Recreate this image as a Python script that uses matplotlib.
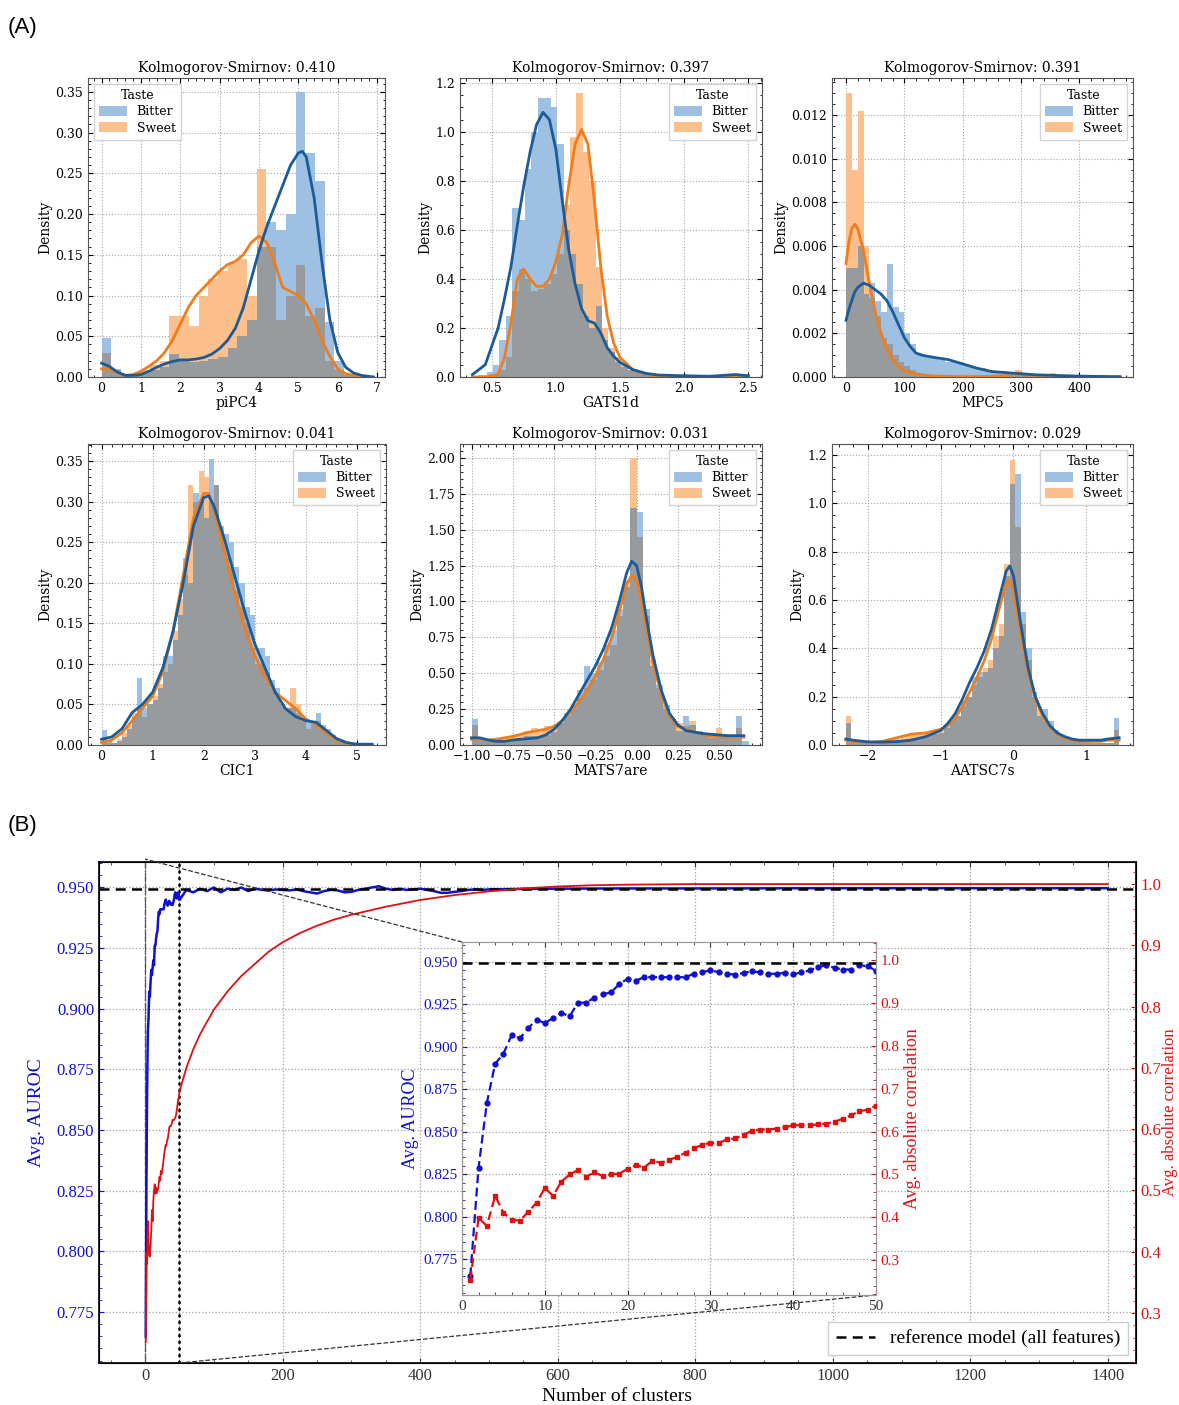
import numpy as np
import matplotlib
matplotlib.use("Agg")
import matplotlib.pyplot as plt
from matplotlib.patches import Patch
from matplotlib.lines import Line2D
from matplotlib.ticker import MultipleLocator, AutoMinorLocator, FixedLocator
from mpl_toolkits.axes_grid1.inset_locator import mark_inset

plt.rcParams['font.family'] = ['DejaVu Serif']

# ---------------- (A) histogram data ----------------
taste_labels = ["Bitter", "Sweet"]

# piPC4
pipc4_title = "Kolmogorov-Smirnov: 0.410"
pipc4_bin_lo, pipc4_bin_w = 0.0, 0.2464
pipc4_bitter = [0.048, 0.010, 0.003, 0.002, 0.005, 0.008, 0.012, 0.028, 0.020, 0.018,
                0.020, 0.022, 0.025, 0.035, 0.050, 0.070, 0.160, 0.190, 0.180, 0.200,
                0.350, 0.275, 0.240, 0.068, 0.020, 0.003, 0.001, 0.001]
pipc4_sweet = [0.030, 0.008, 0.002, 0.003, 0.008, 0.015, 0.020, 0.075, 0.075, 0.062,
               0.100, 0.120, 0.130, 0.140, 0.145, 0.100, 0.255, 0.160, 0.070, 0.100,
               0.138, 0.075, 0.085, 0.020, 0.008, 0.002, 0.000, 0.000]
pipc4_kde_x = [0.0, 0.2, 0.4, 0.6, 0.8, 1.0, 1.2, 1.4, 1.6, 1.8, 2.0, 2.2, 2.4, 2.6, 2.8, 3.0,
               3.2, 3.4, 3.6, 3.8, 4.0, 4.2, 4.4, 4.6, 4.8, 5.0, 5.1, 5.2, 5.4, 5.6, 5.8, 6.0,
               6.2, 6.4, 6.6, 6.9]
pipc4_kde_bitter = [0.017, 0.013, 0.006, 0.002, 0.002, 0.003, 0.007, 0.012, 0.016, 0.019, 0.021,
                    0.021, 0.022, 0.024, 0.028, 0.035, 0.045, 0.060, 0.085, 0.120, 0.155, 0.185,
                    0.210, 0.235, 0.260, 0.275, 0.277, 0.270, 0.220, 0.140, 0.070, 0.030, 0.012,
                    0.005, 0.002, 0.000]
pipc4_kde_sweet = [0.010, 0.010, 0.005, 0.002, 0.003, 0.007, 0.013, 0.020, 0.030, 0.045, 0.065,
                   0.085, 0.100, 0.110, 0.120, 0.130, 0.138, 0.142, 0.150, 0.165, 0.173, 0.165,
                   0.140, 0.110, 0.105, 0.100, 0.095, 0.090, 0.070, 0.045, 0.025, 0.010, 0.004,
                   0.002, 0.000, 0.000]

# GATS1d
gats1d_title = "Kolmogorov-Smirnov: 0.397"
gats1d_bin_lo, gats1d_bin_w = 0.36, 0.05
gats1d_bitter = [0.005, 0.010, 0.020, 0.050, 0.150, 0.250, 0.690, 0.640, 0.850, 1.000,
                 1.140, 1.140, 1.100, 0.950, 0.600, 0.500, 0.380, 0.250, 0.200, 0.290,
                 0.150, 0.100, 0.060, 0.040, 0.030, 0.020, 0.015, 0.010, 0.008, 0.005,
                 0.004, 0.003, 0.003, 0.002, 0.002, 0.001, 0.001, 0.001, 0.001, 0.001,
                 0.001, 0.002, 0.010]
gats1d_sweet = [0.000, 0.000, 0.000, 0.010, 0.030, 0.080, 0.350, 0.440, 0.400, 0.350,
                0.360, 0.380, 0.420, 0.500, 0.700, 0.980, 1.160, 0.920, 0.800, 0.450,
                0.200, 0.120, 0.080, 0.050, 0.030, 0.020, 0.010, 0.005, 0.003, 0.002,
                0.000, 0.000, 0.000, 0.000, 0.000, 0.000, 0.000, 0.000, 0.000, 0.000,
                0.000, 0.000, 0.000]
gats1d_kde_x = [0.35, 0.45, 0.55, 0.60, 0.65, 0.70, 0.75, 0.80, 0.85, 0.90, 0.95, 1.00, 1.05,
                1.10, 1.15, 1.20, 1.25, 1.30, 1.35, 1.40, 1.45, 1.50, 1.60, 1.70, 1.80, 2.00,
                2.20, 2.40, 2.50]
gats1d_kde_bitter = [0.010, 0.050, 0.200, 0.320, 0.450, 0.620, 0.780, 0.920, 1.030, 1.080,
                     1.050, 0.930, 0.720, 0.520, 0.380, 0.280, 0.230, 0.220, 0.180, 0.120,
                     0.085, 0.060, 0.030, 0.015, 0.008, 0.005, 0.003, 0.010, 0.005]
gats1d_kde_sweet = [0.000, 0.000, 0.010, 0.080, 0.220, 0.400, 0.440, 0.400, 0.370, 0.370,
                    0.400, 0.470, 0.580, 0.780, 0.950, 1.010, 0.950, 0.720, 0.450, 0.250,
                    0.140, 0.080, 0.030, 0.010, 0.003, 0.001, 0.000, 0.000, 0.000]

# MPC5
mpc5_title = "Kolmogorov-Smirnov: 0.391"
mpc5_bin_lo, mpc5_bin_w = 0.0, 10.0
mpc5_bitter = [0.0050, 0.0050, 0.0060, 0.0038, 0.0043, 0.0035, 0.0030, 0.0052, 0.0032, 0.0030,
               0.0020, 0.0015, 0.0011, 0.0010, 0.0009, 0.0009, 0.0008, 0.0007, 0.0007, 0.0006,
               0.0005, 0.0005, 0.0004, 0.0004, 0.0003, 0.0002, 0.0002, 0.0002, 0.0001, 0.0002,
               0.0002, 0.0002, 0.0001, 0.0001, 0.0001, 0.0001, 0.0000, 0.0001, 0.0000, 0.0001,
               0.0000, 0.0000, 0.0001, 0.0000, 0.0000, 0.0000, 0.0001]
mpc5_sweet = [0.0130, 0.0095, 0.0122, 0.0060, 0.0036, 0.0028, 0.0018, 0.0015, 0.0010, 0.0007,
              0.0005, 0.0003, 0.0002, 0.0001, 0.0001, 0.0001, 0.0000, 0.0000, 0.0000, 0.0000,
              0.0000, 0.0000, 0.0000, 0.0000, 0.0000, 0.0000, 0.0000, 0.0000, 0.0001, 0.0003,
              0.0002, 0.0001, 0.0000, 0.0000, 0.0000, 0.0002, 0.0000, 0.0000, 0.0000, 0.0000,
              0.0000, 0.0000, 0.0000, 0.0000, 0.0000, 0.0000, 0.0000]
mpc5_kde_x = [0, 5, 10, 15, 20, 30, 40, 50, 60, 70, 80, 90, 100, 110, 120, 130, 150, 175, 200,
              225, 250, 275, 290, 300, 325, 350, 400, 450, 470]
mpc5_kde_bitter = [0.0026, 0.0031, 0.0035, 0.0039, 0.0041, 0.0043, 0.0042, 0.0040, 0.0038,
                   0.0035, 0.0030, 0.0024, 0.0018, 0.0014, 0.0011, 0.0010, 0.0009, 0.0008,
                   0.0006, 0.0004, 0.00025, 0.0002, 0.00017, 0.00015, 0.0001, 0.00008,
                   0.00004, 0.00002, 0.00001]
mpc5_kde_sweet = [0.0052, 0.0062, 0.0068, 0.0070, 0.0068, 0.0058, 0.0043, 0.0030, 0.0020,
                  0.0013, 0.0008, 0.0005, 0.0003, 0.0002, 0.00015, 0.0001, 0.00005, 0.00003,
                  0.00002, 0.00002, 0.00003, 0.00007, 0.0001, 0.0001, 0.00006, 0.00004,
                  0.00001, 0.0, 0.0]

# CIC1
cic1_title = "Kolmogorov-Smirnov: 0.041"
cic1_bin_lo, cic1_bin_w = 0.0, 0.1
cic1_bitter = [0.018, 0.005, 0.003, 0.005, 0.010, 0.020, 0.035, 0.082, 0.045, 0.050,
               0.055, 0.070, 0.110, 0.110, 0.130, 0.160, 0.230, 0.200, 0.310, 0.300,
               0.280, 0.353, 0.320, 0.270, 0.260, 0.250, 0.220, 0.200, 0.170, 0.160,
               0.120, 0.120, 0.110, 0.080, 0.070, 0.050, 0.045, 0.045, 0.040, 0.030,
               0.030, 0.030, 0.040, 0.025, 0.020, 0.012, 0.008, 0.005, 0.003, 0.002,
               0.002, 0.001, 0.001]
cic1_sweet = [0.010, 0.003, 0.003, 0.008, 0.015, 0.025, 0.040, 0.045, 0.035, 0.050,
              0.060, 0.075, 0.090, 0.100, 0.140, 0.180, 0.210, 0.320, 0.300, 0.338,
              0.330, 0.300, 0.320, 0.260, 0.230, 0.220, 0.190, 0.170, 0.150, 0.120,
              0.100, 0.100, 0.090, 0.070, 0.060, 0.050, 0.045, 0.070, 0.050, 0.035,
              0.020, 0.025, 0.030, 0.020, 0.015, 0.010, 0.005, 0.003, 0.002, 0.001,
              0.001, 0.000, 0.000]
cic1_kde_x = [0.0, 0.2, 0.4, 0.6, 0.8, 1.0, 1.2, 1.4, 1.6, 1.8, 2.0, 2.1, 2.2, 2.4, 2.6, 2.8,
              3.0, 3.2, 3.4, 3.6, 3.8, 4.0, 4.2, 4.4, 4.6, 4.8, 5.0, 5.3]
cic1_kde_bitter = [0.007, 0.010, 0.020, 0.040, 0.050, 0.065, 0.095, 0.140, 0.200, 0.270, 0.305,
                   0.307, 0.295, 0.255, 0.210, 0.165, 0.125, 0.095, 0.065, 0.045, 0.035, 0.030,
                   0.028, 0.018, 0.008, 0.003, 0.001, 0.001]
cic1_kde_sweet = [0.003, 0.006, 0.015, 0.030, 0.045, 0.060, 0.090, 0.140, 0.210, 0.280, 0.310,
                  0.310, 0.290, 0.240, 0.190, 0.145, 0.110, 0.085, 0.065, 0.055, 0.045, 0.032,
                  0.025, 0.015, 0.006, 0.002, 0.000, 0.000]

# MATS7are
mats7are_title = "Kolmogorov-Smirnov: 0.031"
mats7are_bin_lo, mats7are_bin_w = -1.0, 0.04
mats7are_bitter = [0.18, 0.05, 0.04, 0.03, 0.03, 0.03, 0.04, 0.05, 0.06, 0.06,
                   0.06, 0.07, 0.09, 0.15, 0.22, 0.28, 0.38, 0.55, 0.50, 0.58,
                   0.70, 0.80, 0.95, 1.10, 1.65, 1.62, 0.95, 0.55, 0.42, 0.28,
                   0.18, 0.10, 0.20, 0.14, 0.10, 0.07, 0.05, 0.06, 0.06, 0.07,
                   0.20, 0.03]
mats7are_sweet = [0.14, 0.05, 0.04, 0.03, 0.04, 0.05, 0.06, 0.08, 0.10, 0.12,
                  0.10, 0.13, 0.12, 0.16, 0.20, 0.26, 0.33, 0.40, 0.45, 0.52,
                  0.62, 0.70, 0.90, 1.15, 2.00, 1.45, 0.90, 0.60, 0.40, 0.25,
                  0.18, 0.15, 0.13, 0.17, 0.08, 0.06, 0.05, 0.12, 0.08, 0.06,
                  0.12, 0.00]
mats7are_kde_x = [-1.0, -0.95, -0.9, -0.85, -0.8, -0.75, -0.7, -0.65, -0.6, -0.55, -0.5, -0.45,
                  -0.4, -0.35, -0.3, -0.25, -0.2, -0.15, -0.1, -0.06, -0.03, 0.0, 0.03, 0.06,
                  0.1, 0.15, 0.2, 0.25, 0.3, 0.35, 0.4, 0.45, 0.5, 0.55, 0.6, 0.65]
mats7are_kde_bitter = [0.05, 0.05, 0.035, 0.025, 0.025, 0.035, 0.04, 0.045, 0.05, 0.07, 0.11,
                       0.17, 0.25, 0.35, 0.45, 0.55, 0.67, 0.82, 1.02, 1.20, 1.28, 1.25, 1.10,
                       0.88, 0.62, 0.38, 0.22, 0.14, 0.10, 0.09, 0.08, 0.075, 0.07, 0.065, 0.065,
                       0.065]
mats7are_kde_sweet = [0.04, 0.04, 0.035, 0.04, 0.05, 0.06, 0.075, 0.09, 0.10, 0.11, 0.13, 0.17,
                      0.23, 0.30, 0.38, 0.48, 0.60, 0.75, 0.95, 1.12, 1.18, 1.15, 1.00, 0.80,
                      0.57, 0.35, 0.20, 0.13, 0.11, 0.09, 0.07, 0.06, 0.06, 0.055, 0.055, 0.055]

# AATSC7s
aatsc7s_title = "Kolmogorov-Smirnov: 0.029"
aatsc7s_bin_lo, aatsc7s_bin_w = -2.3, 0.075
aatsc7s_bitter = [0.09, 0.02, 0.01, 0.01, 0.01, 0.01, 0.01, 0.015, 0.015, 0.02,
                  0.02, 0.025, 0.03, 0.03, 0.035, 0.04, 0.045, 0.05, 0.07, 0.10,
                  0.12, 0.18, 0.20, 0.28, 0.30, 0.30, 0.32, 0.40, 0.45, 0.70,
                  1.08, 1.12, 0.55, 0.40, 0.22, 0.12, 0.15, 0.10, 0.06, 0.04,
                  0.03, 0.02, 0.02, 0.015, 0.015, 0.01, 0.01, 0.01, 0.01, 0.11]
aatsc7s_sweet = [0.12, 0.02, 0.01, 0.01, 0.01, 0.01, 0.01, 0.015, 0.02, 0.025,
                 0.03, 0.04, 0.045, 0.045, 0.05, 0.05, 0.055, 0.06, 0.08, 0.10,
                 0.12, 0.16, 0.20, 0.25, 0.28, 0.32, 0.35, 0.45, 0.50, 0.75,
                 1.18, 0.90, 0.50, 0.35, 0.20, 0.15, 0.10, 0.08, 0.05, 0.04,
                 0.03, 0.02, 0.02, 0.015, 0.01, 0.01, 0.01, 0.01, 0.01, 0.06]
aatsc7s_kde_x = [-2.3, -2.2, -2.0, -1.8, -1.6, -1.4, -1.2, -1.0, -0.9, -0.8, -0.7, -0.6, -0.5,
                 -0.4, -0.3, -0.2, -0.1, -0.05, 0.0, 0.1, 0.2, 0.3, 0.4, 0.5, 0.6, 0.7, 0.8,
                 0.9, 1.0, 1.2, 1.3, 1.45]
aatsc7s_kde_bitter = [0.025, 0.02, 0.013, 0.012, 0.014, 0.02, 0.035, 0.06, 0.09, 0.13, 0.19,
                      0.26, 0.32, 0.39, 0.48, 0.60, 0.72, 0.74, 0.70, 0.50, 0.32, 0.20, 0.13,
                      0.08, 0.05, 0.035, 0.025, 0.02, 0.02, 0.02, 0.025, 0.03]
aatsc7s_kde_sweet = [0.02, 0.015, 0.01, 0.015, 0.03, 0.045, 0.05, 0.065, 0.08, 0.11, 0.16,
                     0.22, 0.28, 0.35, 0.44, 0.56, 0.67, 0.68, 0.64, 0.46, 0.30, 0.19, 0.12,
                     0.075, 0.045, 0.03, 0.02, 0.015, 0.015, 0.015, 0.02, 0.02]

# ---------------- (B) cluster data ----------------
inset_clusters = list(range(1, 51))
inset_auroc = [0.765, 0.829, 0.867, 0.890, 0.896, 0.907, 0.905, 0.911, 0.916, 0.914,
               0.917, 0.920, 0.918, 0.926, 0.926, 0.929, 0.931, 0.932, 0.937, 0.940,
               0.939, 0.941, 0.941, 0.941, 0.941, 0.941, 0.941, 0.943, 0.944, 0.945,
               0.944, 0.943, 0.9425, 0.9435, 0.9445, 0.9438, 0.943, 0.943, 0.9435, 0.9428,
               0.9438, 0.945, 0.947, 0.948, 0.9465, 0.9455, 0.9455, 0.948, 0.9475, 0.9448]
inset_corr = [0.253, 0.398, 0.380, 0.450, 0.411, 0.394, 0.392, 0.413, 0.434, 0.468,
              0.450, 0.483, 0.500, 0.510, 0.495, 0.505, 0.496, 0.500, 0.502, 0.513,
              0.522, 0.516, 0.532, 0.527, 0.534, 0.541, 0.551, 0.561, 0.569, 0.574,
              0.573, 0.582, 0.584, 0.592, 0.602, 0.605, 0.605, 0.607, 0.610, 0.615,
              0.615, 0.615, 0.617, 0.619, 0.623, 0.630, 0.638, 0.648, 0.651, 0.661]
tail_auroc_x = [60, 70, 80, 90, 100, 110, 120, 130, 140, 150, 160, 170, 180, 190, 200, 210,
                220, 230, 240, 250, 260, 270, 280, 290, 300, 310, 320, 330, 340, 350, 360, 370,
                380, 390, 400, 410, 420, 430, 440, 450, 460, 470, 480, 490, 500, 550, 600, 700,
                800, 1000, 1200, 1400]
tail_auroc = [0.9490, 0.9480, 0.9495, 0.9485, 0.9500, 0.9480, 0.9495, 0.9490, 0.9500, 0.9485,
              0.9495, 0.9490, 0.9488, 0.9492, 0.9490, 0.9488, 0.9492, 0.9485, 0.9480, 0.9475,
              0.9485, 0.9490, 0.9488, 0.9480, 0.9482, 0.9490, 0.9495, 0.9500, 0.9505, 0.9495,
              0.9490, 0.9495, 0.9490, 0.9492, 0.9495, 0.9490, 0.9485, 0.9478, 0.9478, 0.9482,
              0.9485, 0.9490, 0.9492, 0.9490, 0.9492, 0.9494, 0.9495, 0.9496, 0.9496, 0.9497,
              0.9497, 0.9497]
tail_corr_x = [60, 70, 80, 90, 100, 120, 140, 160, 180, 200, 225, 250, 275, 300, 350, 400,
               450, 500, 550, 600, 650, 700, 800, 900, 1000, 1100, 1200, 1300, 1400]
tail_corr = [0.700, 0.730, 0.755, 0.775, 0.795, 0.825, 0.850, 0.870, 0.890, 0.905, 0.920,
             0.932, 0.942, 0.950, 0.963, 0.974, 0.982, 0.988, 0.993, 0.996, 0.998, 0.999,
             1.000, 1.000, 1.000, 1.000, 1.000, 1.000, 1.000]
reference_auroc = 0.9495

# ---------------- styling ----------------
C_BAR_B = '#9dc0e3'
C_BAR_S = '#fdbf8c'
C_BAR_O = '#979b9d'
C_KDE_B = '#1b5c98'
C_KDE_S = '#f07d1c'

fig = plt.figure(figsize=(11.79, 14.05), dpi=100)
W, H = 1179.0, 1405.0


def px_axes(x0, y0, x1, y1):
    return fig.add_axes([x0 / W, 1 - y1 / H, (x1 - x0) / W, (y1 - y0) / H])


def sci_ticks(ax, size=9):
    ax.minorticks_on()
    ax.tick_params(which='both', direction='in', top=True, right=True, labelsize=size)
    ax.tick_params(which='major', length=3.5, width=0.8)
    ax.tick_params(which='minor', length=1.8, width=0.6)


panels = [
    ("piPC4", pipc4_title, pipc4_bin_lo, pipc4_bin_w, pipc4_bitter, pipc4_sweet,
     pipc4_kde_x, pipc4_kde_bitter, pipc4_kde_sweet),
    ("GATS1d", gats1d_title, gats1d_bin_lo, gats1d_bin_w, gats1d_bitter, gats1d_sweet,
     gats1d_kde_x, gats1d_kde_bitter, gats1d_kde_sweet),
    ("MPC5", mpc5_title, mpc5_bin_lo, mpc5_bin_w, mpc5_bitter, mpc5_sweet,
     mpc5_kde_x, mpc5_kde_bitter, mpc5_kde_sweet),
    ("CIC1", cic1_title, cic1_bin_lo, cic1_bin_w, cic1_bitter, cic1_sweet,
     cic1_kde_x, cic1_kde_bitter, cic1_kde_sweet),
    ("MATS7are", mats7are_title, mats7are_bin_lo, mats7are_bin_w, mats7are_bitter, mats7are_sweet,
     mats7are_kde_x, mats7are_kde_bitter, mats7are_kde_sweet),
    ("AATSC7s", aatsc7s_title, aatsc7s_bin_lo, aatsc7s_bin_w, aatsc7s_bitter, aatsc7s_sweet,
     aatsc7s_kde_x, aatsc7s_kde_bitter, aatsc7s_kde_sweet),
]
boxes = [(88, 78, 385, 377), (460, 78, 762, 377), (832, 78, 1133, 377),
         (88, 444, 386, 745), (460, 444, 762, 745), (832, 444, 1133, 745)]
xlims = [(-0.345, 7.2), (0.253, 2.607), (-24, 492), (-0.265, 5.57), (-1.07, 0.76), (-2.49, 1.64)]
ylims = [0.367, 1.22, 0.0137, 0.371, 2.097, 1.245]
xmajor = [1, 0.5, 100, 1, 0.25, 1]
xmax_tick = [7, 2.5, 400, 5, 0.5, 1]
legend_locs = ['upper left', 'upper right', 'upper right', 'upper right', 'upper right', 'upper right']

for (xlabel, title, lo, w, hb, hs, kx, kb, ks), box, xl, yl, xm, xt, lloc in zip(
        panels, boxes, xlims, ylims, xmajor, xmax_tick, legend_locs):
    ax = px_axes(*box)
    edges = lo + w * np.arange(len(hb))
    hb = np.asarray(hb)
    hs = np.asarray(hs)
    ax.bar(edges, hb, width=w, align='edge', color=C_BAR_B, lw=0, zorder=2)
    ax.bar(edges, hs, width=w, align='edge', color=C_BAR_S, lw=0, zorder=2)
    ax.bar(edges, np.minimum(hb, hs), width=w, align='edge', color=C_BAR_O, lw=0, zorder=2)
    ax.plot(kx, ks, color=C_KDE_S, lw=2, zorder=3)
    ax.plot(kx, kb, color=C_KDE_B, lw=2, zorder=4)
    ax.set_xlim(*xl)
    ax.set_ylim(0, yl)
    ticks = np.arange(np.ceil(xl[0] / xm) * xm, xt + xm / 2, xm)
    ax.xaxis.set_major_locator(FixedLocator(ticks))
    sci_ticks(ax)
    ax.xaxis.set_minor_locator(AutoMinorLocator(5))
    ax.grid(True, which='major', ls=':', color='#a8a8a8', lw=0.8, zorder=0)
    ax.set_axisbelow(True)
    ax.set_title(title, fontsize=10, pad=4)
    ax.set_xlabel(xlabel, fontsize=10, labelpad=1)
    ax.set_ylabel("Density", fontsize=10, labelpad=2)
    for s in ax.spines.values():
        s.set_color('#555555')
    handles = [Patch(facecolor=C_BAR_B, label=taste_labels[0]),
               Patch(facecolor=C_BAR_S, label=taste_labels[1])]
    ax.legend(handles=handles, title="Taste", loc=lloc, fontsize=9, title_fontsize=9,
              frameon=True, fancybox=False, edgecolor='#d0d0d0', framealpha=0.9,
              handlelength=2.2, handleheight=0.8, borderpad=0.4, labelspacing=0.25)

fig.text(8 / W, 1 - 28 / H, "(A)", fontsize=16, family='Liberation Sans', va='center')
fig.text(8 / W, 1 - 826 / H, "(B)", fontsize=16, family='Liberation Sans', va='center')

# ---------------- (B) main panel ----------------
BF = 'Liberation Serif'
BLUE = '#1010d0'
RED = '#e01010'
ax = px_axes(99, 862, 1136, 1363)
ax2 = ax.twinx()
main_x = inset_clusters + tail_auroc_x
main_auroc = inset_auroc + tail_auroc
main_cx = inset_clusters + tail_corr_x
main_corr = inset_corr + tail_corr
ax.plot(main_x, main_auroc, color=BLUE, lw=1.8, zorder=3)
ax.axhline(reference_auroc, color='k', ls='--', lw=1.8, dashes=(4, 2.5), zorder=4)
ax2.plot(main_cx, main_corr, color=RED, lw=1.3, zorder=3)
ax.set_xlim(-67, 1441)
ax.set_ylim(0.754, 0.9605)
ax2.set_ylim(0.2184, 1.036)
ax.set_yticks([0.775, 0.800, 0.825, 0.850, 0.875, 0.900, 0.925, 0.950])
ax.set_yticklabels(['%.3f' % v for v in ax.get_yticks()])
ax2.set_yticks([0.3, 0.4, 0.5, 0.6, 0.7, 0.8, 0.9, 1.0])
ax2.set_yticklabels(['%.1f' % v for v in ax2.get_yticks()])
ax.set_xticks([0, 200, 400, 600, 800, 1000, 1200, 1400])
ax.xaxis.set_minor_locator(AutoMinorLocator(4))
ax.yaxis.set_minor_locator(AutoMinorLocator(5))
ax2.yaxis.set_minor_locator(AutoMinorLocator(5))
ax.tick_params(which='both', direction='in', top=True, right=False, labelsize=12,
               labelfontfamily=BF)
ax.tick_params(axis='y', colors=BLUE, which='both')
ax.tick_params(axis='x', colors='#333333', which='both')
ax2.tick_params(which='both', direction='in', labelsize=12, colors=RED, labelfontfamily=BF,
                pad=3)
ax.grid(True, which='major', ls=':', color='#a0a0a0', lw=0.9)
ax.set_xlabel("Number of clusters", fontsize=14, family=BF, labelpad=3)
ax.set_ylabel("Avg. AUROC", fontsize=14, family=BF, color=BLUE, labelpad=8)
ax2.set_ylabel("Avg. absolute correlation", fontsize=12, family=BF, color=RED, labelpad=1)
for s in ax.spines.values():
    s.set_linewidth(1.2)
ax2.legend(handles=[Line2D([], [], color='k', ls='--', lw=1.8, dashes=(4, 2.5),
                           label='reference model (all features)')],
           loc='lower right', prop={'family': BF, 'size': 14}, frameon=True, fancybox=False,
           edgecolor='#cccccc', framealpha=1.0, borderaxespad=0.4)
ax.axvline(0, color='#555555', ls='-.', lw=0.8, zorder=2)
ax.axvline(50, color='k', ls=':', lw=1.8, zorder=2)

# ---------------- inset ----------------
axi = px_axes(462, 942, 876, 1295)
axi.set_facecolor('white')
axi2 = axi.twinx()
axi.plot(inset_clusters, inset_auroc, color=BLUE, ls='--', lw=1.6, marker='o', ms=3.5,
         dashes=(4, 2), zorder=3)
axi.axhline(reference_auroc, color='k', ls='--', lw=1.8, dashes=(4, 2.5), zorder=4)
axi2.plot(inset_clusters, inset_corr, color=RED, ls='--', lw=1.6, marker='s', ms=3.5,
          dashes=(4, 2), zorder=3)
axi.set_xlim(0, 50)
axi.set_ylim(0.754, 0.9617)
axi2.set_ylim(0.2184, 1.043)
axi.set_xticks([0, 10, 20, 30, 40, 50])
axi.set_yticks([0.775, 0.800, 0.825, 0.850, 0.875, 0.900, 0.925, 0.950])
axi.set_yticklabels(['%.3f' % v for v in axi.get_yticks()])
axi2.set_yticks([0.3, 0.4, 0.5, 0.6, 0.7, 0.8, 0.9, 1.0])
axi2.set_yticklabels(['%.1f' % v for v in axi2.get_yticks()])
axi.xaxis.set_minor_locator(AutoMinorLocator(5))
axi.yaxis.set_minor_locator(AutoMinorLocator(5))
axi2.yaxis.set_minor_locator(AutoMinorLocator(5))
axi.tick_params(which='both', direction='in', top=True, right=False, labelsize=11,
                labelfontfamily=BF)
axi.tick_params(axis='y', colors=BLUE, which='both')
axi.tick_params(axis='x', colors='#333333', which='both')
axi2.tick_params(which='both', direction='in', labelsize=11, colors=RED, labelfontfamily=BF)
axi.grid(True, which='major', ls=':', color='#a0a0a0', lw=0.9)
axi.set_ylabel("Avg. AUROC", fontsize=13, family=BF, color=BLUE, labelpad=3)
axi2.set_ylabel("Avg. absolute correlation", fontsize=13, family=BF, color=RED, labelpad=3)
for s in axi.spines.values():
    s.set_color('#999999')
for s in axi2.spines.values():
    s.set_color('#999999')

mark_inset(ax, axi, loc1=2, loc2=4, fc='none', ec='#333333', ls='--', lw=0.9)

fig.savefig("out.png", dpi=100)
